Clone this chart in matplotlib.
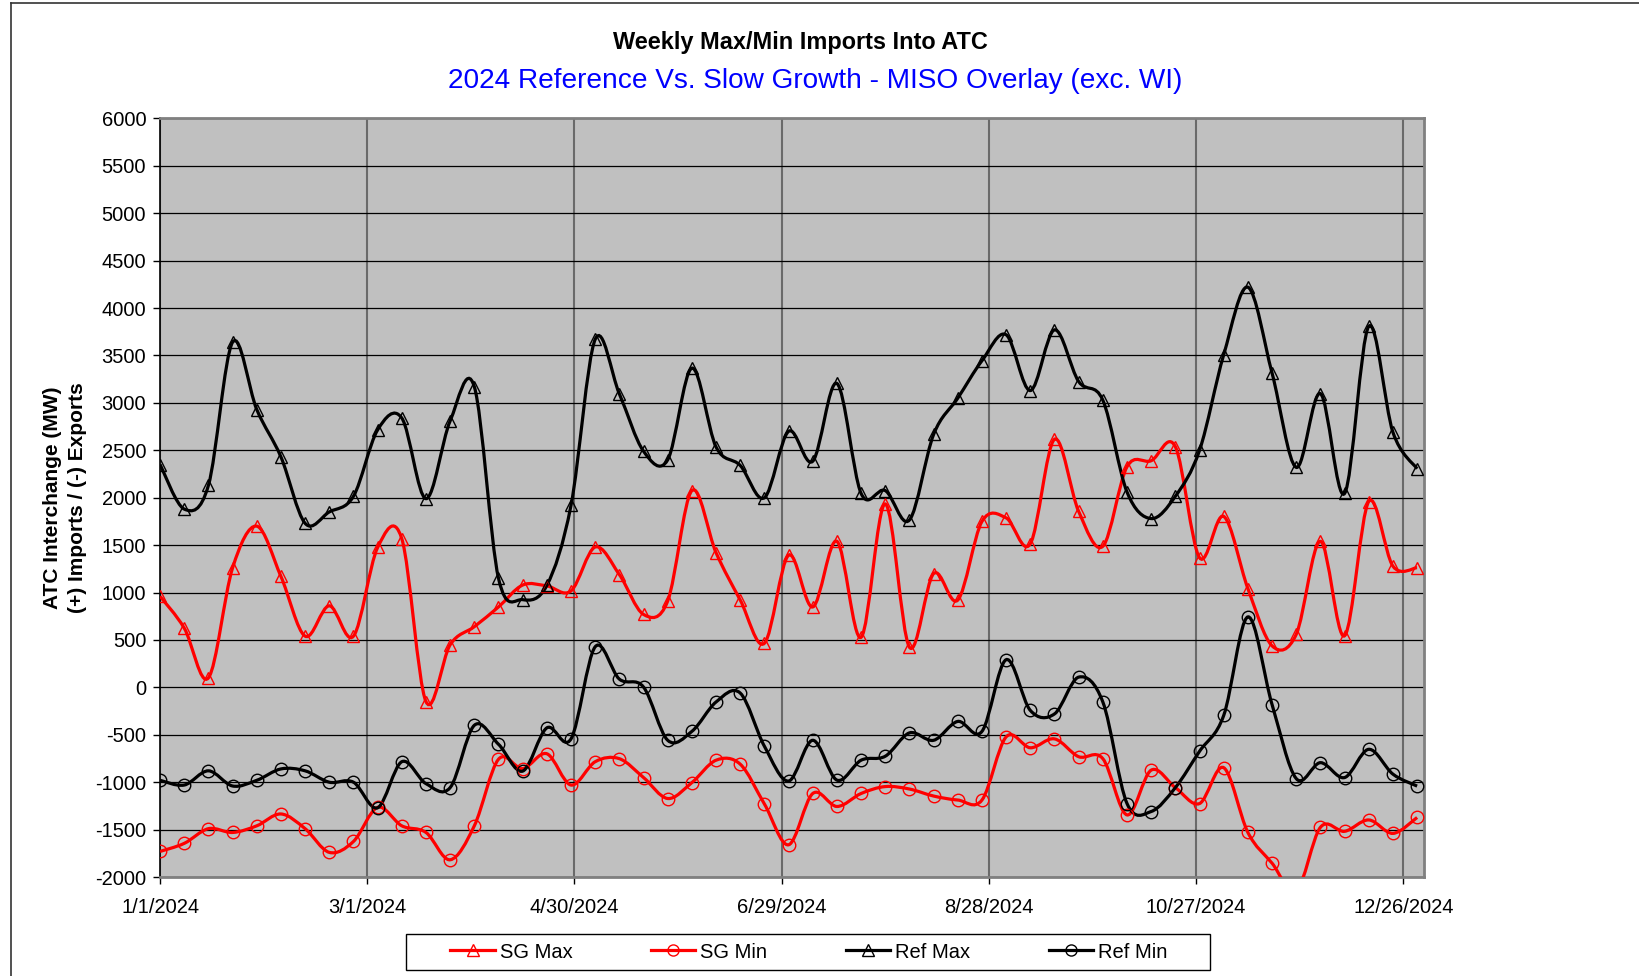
import matplotlib
matplotlib.use("Agg")
import matplotlib.pyplot as plt
import matplotlib.dates as mdates
from matplotlib.lines import Line2D
from matplotlib.path import Path
from matplotlib.patches import PathPatch, Rectangle
import numpy as np
import pandas as pd

plt.rcParams["font.family"] = ["Liberation Sans", "DejaVu Sans"]
plt.rcParams["axes.unicode_minus"] = False

# ----------------------------------------------------------------------------
# Data (MW)
# ----------------------------------------------------------------------------

weeks = pd.date_range("2024-01-01", periods=53, freq="7D")

ref_max = [2350, 1880, 2130, 3640, 2930, 2430, 1730, 1850, 2015, 2715,
           2840, 1990, 2810, 3170, 1150, 925, 1075, 1920, 3670, 3095,
           2490, 2400, 3366, 2535, 2340, 2000, 2700, 2385, 3205, 2045,
           2075, 1765, 2668, 3050, 3445, 3718, 3130, 3770, 3225, 3028,
           2060, 1780, 2015, 2500, 3508, 4220, 3314, 2320, 3098, 2045,
           3807, 2690, 2305]

sg_max = [960, 625, 100, 1260, 1700, 1170, 540, 860, 540, 1475,
          1567, -150, 449, 640, 848, 1079, 1070, 1017, 1480, 1189,
          769, 911, 2075, 1420, 921, 465, 1394, 848, 1540, 528,
          1934, 423, 1200, 921, 1750, 1787, 1514, 2616, 1855, 1488,
          2327, 2390, 2537, 1367, 1803, 1042, 438, 559, 1540, 544,
          1960, 1278, 1262]

ref_min = [-980, -1030, -880, -1040, -980, -860, -880, -1000, -1000, -1270,
           -784, -1015, -1057, -400, -600, -883, -427, -543, 428, 87,
           3, -558, -464, -154, -60, -621, -988, -558, -978, -768,
           -726, -480, -558, -359, -464, 292, -243, -280, 108, -154,
           -1225, -1309, -1057, -674, -296, 743, -181, -962, -794, -951,
           -653, -915, -1041]

sg_min = [-1730, -1645, -1490, -1530, -1460, -1335, -1490, -1740, -1625, -1265,
          -1460, -1530, -1818, -1460, -758, -857, -700, -1030, -784, -752,
          -951, -1172, -1004, -768, -810, -1230, -1660, -1119, -1256, -1119,
          -1046, -1072, -1146, -1188, -1188, -522, -637, -543, -731, -752,
          -1345, -873, -1057, -1225, -847, -1530, -1854, -2150, -1476, -1518,
          -1398, -1540, -1372]

tick_dates = ["2024-01-01", "2024-03-01", "2024-04-30", "2024-06-29",
              "2024-08-28", "2024-10-27", "2024-12-26"]
tick_labels = ["1/1/2024", "3/1/2024", "4/30/2024", "6/29/2024",
               "8/28/2024", "10/27/2024", "12/26/2024"]


def smooth_path(x, y):
    """Excel-style smoothed line: Catmull-Rom segments as cubic Beziers."""
    x = np.asarray(x, float)
    y = np.asarray(y, float)
    px = np.concatenate([[x[0]], x, [x[-1]]])
    py = np.concatenate([[y[0]], y, [y[-1]]])
    verts = [(x[0], y[0])]
    codes = [Path.MOVETO]
    for i in range(len(x) - 1):
        c1 = (px[i + 1] + (px[i + 2] - px[i]) / 6, py[i + 1] + (py[i + 2] - py[i]) / 6)
        c2 = (px[i + 2] - (px[i + 3] - px[i + 1]) / 6, py[i + 2] - (py[i + 3] - py[i + 1]) / 6)
        verts += [c1, c2, (px[i + 2], py[i + 2])]
        codes += [Path.CURVE4] * 3
    return Path(verts, codes)


fig = plt.figure(figsize=(16.4, 9.76), dpi=100)
ax = fig.add_axes([0.0976, 0.1014, 0.7707, 0.7773])
ax.set_facecolor("#C0C0C0")

xnum = mdates.date2num(weeks)
series = [
    ("SG Max", sg_max, "#FF0000", "^"),
    ("SG Min", sg_min, "#FF0000", "o"),
    ("Ref Max", ref_max, "#000000", "^"),
    ("Ref Min", ref_min, "#000000", "o"),
]
handles = []
for name, vals, col, mk in series:
    ax.add_patch(PathPatch(smooth_path(xnum, vals), facecolor="none",
                           edgecolor=col, lw=2.3, zorder=3))
    ax.plot(xnum, vals, ls="none", marker=mk, ms=9, mfc="none",
            mec=col, mew=1.0, zorder=4)
    handles.append(Line2D([], [], color=col, lw=2.3, marker=mk, ms=8,
                          mfc="none", mec=col, mew=1.0, label=name))

ax.set_xlim(mdates.date2num(pd.Timestamp("2024-01-01")),
            mdates.date2num(pd.Timestamp("2025-01-01")))
ax.set_ylim(-2000, 6000)
ax.set_yticks(np.arange(-2000, 6001, 500))
ax.set_xticks(mdates.date2num(pd.to_datetime(tick_dates)))
ax.set_xticklabels(tick_labels)
ax.tick_params(axis="both", labelsize=14.5, direction="out", length=5,
               width=1, colors="black")
ax.tick_params(axis="x", pad=10)
ax.tick_params(axis="y", pad=5)

ax.set_axisbelow(True)
ax.yaxis.grid(True, color="black", lw=0.9)
ax.xaxis.grid(True, color="#6a6a6a", lw=1.5)

for side in ["top", "right", "bottom"]:
    ax.spines[side].set_color("#808080")
    ax.spines[side].set_linewidth(2)
ax.spines["left"].set_color("black")
ax.spines["left"].set_linewidth(1.2)

ax.set_ylabel("ATC Interchange (MW)\n(+) Imports / (-) Exports",
              fontsize=15, fontweight="bold", labelpad=6, linespacing=1.4)

fig.text(800 / 1640, 1 - 42 / 976, "Weekly Max/Min Imports Into ATC",
         ha="center", va="center", fontsize=16.9, fontweight="bold")
fig.text(815 / 1640, 1 - 81 / 976,
         "2024 Reference Vs. Slow Growth - MISO Overlay (exc. WI)",
         ha="center", va="center", fontsize=20.2, color="#0000FF")

# legend box drawn separately so its padding matches the reference
fig.add_artist(Rectangle((406 / 1640, 1 - 970 / 976), 804 / 1640, 36 / 976,
                         transform=fig.transFigure, facecolor="white",
                         edgecolor="black", lw=1.0, zorder=5))
leg = fig.legend(handles=handles, ncol=4, loc="center",
                 bbox_to_anchor=(809 / 1640, 1 - 952 / 976),
                 fontsize=14.5, frameon=False, handlelength=2.2,
                 handletextpad=0.25, columnspacing=3.9, borderpad=0.2)
leg.set_zorder(6)

# outer chart-area border (left and top edges visible)
fig.add_artist(Line2D([11 / 1640, 11 / 1640], [0, 1 - 3 / 976],
                      transform=fig.transFigure, color="#333333", lw=1.2))
fig.add_artist(Line2D([11 / 1640, 1], [1 - 3 / 976, 1 - 3 / 976],
                      transform=fig.transFigure, color="#333333", lw=1.2))

fig.savefig("out.png", dpi=100)
plt.close(fig)
